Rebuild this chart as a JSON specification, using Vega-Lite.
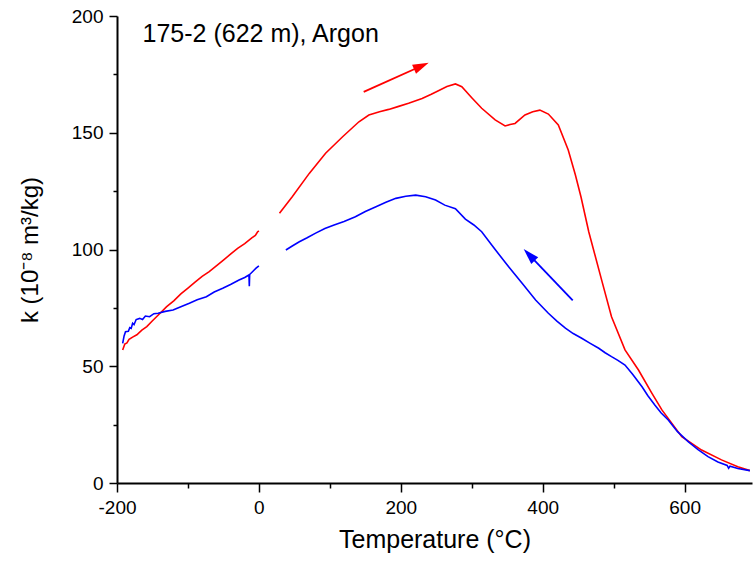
{
  "$schema": "https://vega.github.io/schema/vega-lite/v6.json",
  "width": 635,
  "height": 467,
  "autosize": {"type": "none"},
  "padding": {"left": 117, "top": 16, "right": 2, "bottom": 81},
  "background": "white",
  "config": {
    "view": {"stroke": null},
    "font": "Liberation Sans",
    "axis": {
      "grid": false,
      "domainColor": "black",
      "domainWidth": 2,
      "tickColor": "black",
      "tickWidth": 1.5,
      "labelColor": "black",
      "labelFont": "Liberation Sans",
      "labelFontSize": 19,
      "labelFlush": false,
      "labelOverlap": false,
      "titleColor": "black",
      "titleFont": "Liberation Sans",
      "titleFontWeight": "normal",
      "titleFontSize": 24
    }
  },
  "datasets": {
    "curves": [
      {"T": -192, "k": 57, "run": "heating", "seg": "h1"},
      {"T": -189, "k": 59.5, "run": "heating", "seg": "h1"},
      {"T": -186, "k": 60, "run": "heating", "seg": "h1"},
      {"T": -183, "k": 61.5, "run": "heating", "seg": "h1"},
      {"T": -178, "k": 62.5, "run": "heating", "seg": "h1"},
      {"T": -172, "k": 63.5, "run": "heating", "seg": "h1"},
      {"T": -165, "k": 65.5, "run": "heating", "seg": "h1"},
      {"T": -158, "k": 67, "run": "heating", "seg": "h1"},
      {"T": -150, "k": 69.5, "run": "heating", "seg": "h1"},
      {"T": -140, "k": 72.5, "run": "heating", "seg": "h1"},
      {"T": -130, "k": 75.5, "run": "heating", "seg": "h1"},
      {"T": -120, "k": 78, "run": "heating", "seg": "h1"},
      {"T": -110, "k": 81, "run": "heating", "seg": "h1"},
      {"T": -100, "k": 83.5, "run": "heating", "seg": "h1"},
      {"T": -90, "k": 86, "run": "heating", "seg": "h1"},
      {"T": -80, "k": 88.5, "run": "heating", "seg": "h1"},
      {"T": -70, "k": 90.5, "run": "heating", "seg": "h1"},
      {"T": -60, "k": 93, "run": "heating", "seg": "h1"},
      {"T": -50, "k": 95.5, "run": "heating", "seg": "h1"},
      {"T": -40, "k": 98, "run": "heating", "seg": "h1"},
      {"T": -30, "k": 100.5, "run": "heating", "seg": "h1"},
      {"T": -20, "k": 102.5, "run": "heating", "seg": "h1"},
      {"T": -10, "k": 105, "run": "heating", "seg": "h1"},
      {"T": -5, "k": 106, "run": "heating", "seg": "h1"},
      {"T": -2, "k": 107.5, "run": "heating", "seg": "h1"},
      {"T": 0, "k": 108, "run": "heating", "seg": "h1"},
      {"T": 29, "k": 115.5, "run": "heating", "seg": "h2"},
      {"T": 47, "k": 122.6, "run": "heating", "seg": "h2"},
      {"T": 71, "k": 132.6, "run": "heating", "seg": "h2"},
      {"T": 94, "k": 141.2, "run": "heating", "seg": "h2"},
      {"T": 118, "k": 148.3, "run": "heating", "seg": "h2"},
      {"T": 141, "k": 154.7, "run": "heating", "seg": "h2"},
      {"T": 155, "k": 157.6, "run": "heating", "seg": "h2"},
      {"T": 170, "k": 159, "run": "heating", "seg": "h2"},
      {"T": 183, "k": 160, "run": "heating", "seg": "h2"},
      {"T": 197, "k": 161.3, "run": "heating", "seg": "h2"},
      {"T": 211, "k": 162.6, "run": "heating", "seg": "h2"},
      {"T": 230, "k": 164.7, "run": "heating", "seg": "h2"},
      {"T": 243, "k": 166.5, "run": "heating", "seg": "h2"},
      {"T": 253, "k": 168, "run": "heating", "seg": "h2"},
      {"T": 265, "k": 169.8, "run": "heating", "seg": "h2"},
      {"T": 277, "k": 170.9, "run": "heating", "seg": "h2"},
      {"T": 286, "k": 169.7, "run": "heating", "seg": "h2"},
      {"T": 300, "k": 165, "run": "heating", "seg": "h2"},
      {"T": 314, "k": 160.5, "run": "heating", "seg": "h2"},
      {"T": 333, "k": 155.5, "run": "heating", "seg": "h2"},
      {"T": 347, "k": 152.9, "run": "heating", "seg": "h2"},
      {"T": 354, "k": 153.5, "run": "heating", "seg": "h2"},
      {"T": 361, "k": 154, "run": "heating", "seg": "h2"},
      {"T": 375, "k": 157.6, "run": "heating", "seg": "h2"},
      {"T": 386, "k": 159, "run": "heating", "seg": "h2"},
      {"T": 396, "k": 159.7, "run": "heating", "seg": "h2"},
      {"T": 408, "k": 158, "run": "heating", "seg": "h2"},
      {"T": 422, "k": 153.3, "run": "heating", "seg": "h2"},
      {"T": 436, "k": 142.6, "run": "heating", "seg": "h2"},
      {"T": 446, "k": 132, "run": "heating", "seg": "h2"},
      {"T": 454, "k": 122.5, "run": "heating", "seg": "h2"},
      {"T": 465, "k": 107.5, "run": "heating", "seg": "h2"},
      {"T": 483, "k": 87, "run": "heating", "seg": "h2"},
      {"T": 497, "k": 71.2, "run": "heating", "seg": "h2"},
      {"T": 516, "k": 57, "run": "heating", "seg": "h2"},
      {"T": 535, "k": 48.4, "run": "heating", "seg": "h2"},
      {"T": 554, "k": 38.4, "run": "heating", "seg": "h2"},
      {"T": 568, "k": 31.3, "run": "heating", "seg": "h2"},
      {"T": 596, "k": 19.8, "run": "heating", "seg": "h2"},
      {"T": 624, "k": 14.1, "run": "heating", "seg": "h2"},
      {"T": 652, "k": 9.9, "run": "heating", "seg": "h2"},
      {"T": 675, "k": 7, "run": "heating", "seg": "h2"},
      {"T": 692, "k": 5.3, "run": "heating", "seg": "h2"},
      {"T": -192, "k": 59.8, "run": "cooling", "seg": "c1"},
      {"T": -190, "k": 63, "run": "cooling", "seg": "c1"},
      {"T": -188, "k": 64.8, "run": "cooling", "seg": "c1"},
      {"T": -184, "k": 65, "run": "cooling", "seg": "c1"},
      {"T": -182, "k": 66.5, "run": "cooling", "seg": "c1"},
      {"T": -180, "k": 66.2, "run": "cooling", "seg": "c1"},
      {"T": -178, "k": 68.4, "run": "cooling", "seg": "c1"},
      {"T": -176, "k": 67.8, "run": "cooling", "seg": "c1"},
      {"T": -173, "k": 70, "run": "cooling", "seg": "c1"},
      {"T": -168, "k": 70.5, "run": "cooling", "seg": "c1"},
      {"T": -164, "k": 70, "run": "cooling", "seg": "c1"},
      {"T": -160, "k": 71.5, "run": "cooling", "seg": "c1"},
      {"T": -154, "k": 71.2, "run": "cooling", "seg": "c1"},
      {"T": -148, "k": 72.5, "run": "cooling", "seg": "c1"},
      {"T": -142, "k": 72.7, "run": "cooling", "seg": "c1"},
      {"T": -132, "k": 73.5, "run": "cooling", "seg": "c1"},
      {"T": -121, "k": 74.1, "run": "cooling", "seg": "c1"},
      {"T": -110, "k": 75.5, "run": "cooling", "seg": "c1"},
      {"T": -98, "k": 77, "run": "cooling", "seg": "c1"},
      {"T": -87, "k": 78.5, "run": "cooling", "seg": "c1"},
      {"T": -74, "k": 79.8, "run": "cooling", "seg": "c1"},
      {"T": -63, "k": 81.8, "run": "cooling", "seg": "c1"},
      {"T": -51, "k": 83.4, "run": "cooling", "seg": "c1"},
      {"T": -40, "k": 85, "run": "cooling", "seg": "c1"},
      {"T": -28, "k": 86.9, "run": "cooling", "seg": "c1"},
      {"T": -20, "k": 88, "run": "cooling", "seg": "c1"},
      {"T": -14, "k": 89.1, "run": "cooling", "seg": "c1"},
      {"T": -13.5, "k": 84.3, "run": "cooling", "seg": "c1"},
      {"T": -13, "k": 89.3, "run": "cooling", "seg": "c1"},
      {"T": -8, "k": 90.8, "run": "cooling", "seg": "c1"},
      {"T": -4, "k": 92, "run": "cooling", "seg": "c1"},
      {"T": 0, "k": 93, "run": "cooling", "seg": "c1"},
      {"T": 38, "k": 99.8, "run": "cooling", "seg": "c2"},
      {"T": 47, "k": 101.5, "run": "cooling", "seg": "c2"},
      {"T": 57, "k": 103.3, "run": "cooling", "seg": "c2"},
      {"T": 68, "k": 105, "run": "cooling", "seg": "c2"},
      {"T": 80, "k": 107, "run": "cooling", "seg": "c2"},
      {"T": 93, "k": 109, "run": "cooling", "seg": "c2"},
      {"T": 106, "k": 110.5, "run": "cooling", "seg": "c2"},
      {"T": 120, "k": 112, "run": "cooling", "seg": "c2"},
      {"T": 136, "k": 114, "run": "cooling", "seg": "c2"},
      {"T": 150, "k": 116.3, "run": "cooling", "seg": "c2"},
      {"T": 165, "k": 118.3, "run": "cooling", "seg": "c2"},
      {"T": 179, "k": 120.2, "run": "cooling", "seg": "c2"},
      {"T": 193, "k": 121.9, "run": "cooling", "seg": "c2"},
      {"T": 207, "k": 122.8, "run": "cooling", "seg": "c2"},
      {"T": 221, "k": 123.3, "run": "cooling", "seg": "c2"},
      {"T": 235, "k": 122.6, "run": "cooling", "seg": "c2"},
      {"T": 249, "k": 121.2, "run": "cooling", "seg": "c2"},
      {"T": 262, "k": 119, "run": "cooling", "seg": "c2"},
      {"T": 277, "k": 117.5, "run": "cooling", "seg": "c2"},
      {"T": 291, "k": 113, "run": "cooling", "seg": "c2"},
      {"T": 303, "k": 110.5, "run": "cooling", "seg": "c2"},
      {"T": 314, "k": 107.6, "run": "cooling", "seg": "c2"},
      {"T": 333, "k": 100, "run": "cooling", "seg": "c2"},
      {"T": 352, "k": 92.6, "run": "cooling", "seg": "c2"},
      {"T": 371, "k": 85.5, "run": "cooling", "seg": "c2"},
      {"T": 390, "k": 78.4, "run": "cooling", "seg": "c2"},
      {"T": 408, "k": 72.7, "run": "cooling", "seg": "c2"},
      {"T": 420, "k": 69.3, "run": "cooling", "seg": "c2"},
      {"T": 432, "k": 66.3, "run": "cooling", "seg": "c2"},
      {"T": 443, "k": 64, "run": "cooling", "seg": "c2"},
      {"T": 455, "k": 62, "run": "cooling", "seg": "c2"},
      {"T": 467, "k": 59.8, "run": "cooling", "seg": "c2"},
      {"T": 479, "k": 57.7, "run": "cooling", "seg": "c2"},
      {"T": 488, "k": 55.8, "run": "cooling", "seg": "c2"},
      {"T": 497, "k": 54.1, "run": "cooling", "seg": "c2"},
      {"T": 506, "k": 52.5, "run": "cooling", "seg": "c2"},
      {"T": 516, "k": 50.5, "run": "cooling", "seg": "c2"},
      {"T": 527, "k": 46.5, "run": "cooling", "seg": "c2"},
      {"T": 540, "k": 41.2, "run": "cooling", "seg": "c2"},
      {"T": 548, "k": 37.5, "run": "cooling", "seg": "c2"},
      {"T": 558, "k": 33.4, "run": "cooling", "seg": "c2"},
      {"T": 567, "k": 30, "run": "cooling", "seg": "c2"},
      {"T": 577, "k": 27, "run": "cooling", "seg": "c2"},
      {"T": 590, "k": 22, "run": "cooling", "seg": "c2"},
      {"T": 605, "k": 17.7, "run": "cooling", "seg": "c2"},
      {"T": 619, "k": 14.3, "run": "cooling", "seg": "c2"},
      {"T": 633, "k": 11.3, "run": "cooling", "seg": "c2"},
      {"T": 647, "k": 9, "run": "cooling", "seg": "c2"},
      {"T": 660, "k": 7.5, "run": "cooling", "seg": "c2"},
      {"T": 662, "k": 6.3, "run": "cooling", "seg": "c2"},
      {"T": 664, "k": 7.2, "run": "cooling", "seg": "c2"},
      {"T": 675, "k": 6.2, "run": "cooling", "seg": "c2"},
      {"T": 692, "k": 5.3, "run": "cooling", "seg": "c2"}
    ],
    "arrows": [
      {"T": 147.7, "k": 167.5, "T2": 229, "k2": 178.6, "run": "heating"},
      {"T": 442.3, "k": 78.2, "T2": 381, "k2": 97.7, "run": "cooling"}
    ],
    "notes": [
      {"T": -164, "k": 189, "label": "175-2 (622 m), Argon"}
    ]
  },
  "layer": [
    {
      "data": {"name": "curves"},
      "mark": {"type": "line", "strokeWidth": 1.6},
      "encoding": {
        "x": {
          "field": "T",
          "type": "quantitative",
          "scale": {"domain": [-200, 695], "nice": false, "zero": false},
          "axis": {
            "title": "Temperature (°C)",
            "titleFontSize": 25,
            "values": [-200, -100, 0, 100, 200, 300, 400, 500, 600],
            "labelExpr": "datum.value % 200 === 0 ? '' + datum.value : ''",
            "tickSize": {"condition": {"test": "datum.value % 200 === 0", "value": 9}, "value": 5},
            "labelPadding": 6,
            "titlePadding": 10
          }
        },
        "y": {
          "field": "k",
          "type": "quantitative",
          "scale": {"domain": [0, 200], "nice": false},
          "axis": {
            "title": "k (10⁻⁸ m³/kg)",
            "values": [0, 25, 50, 75, 100, 125, 150, 175, 200],
            "labelExpr": "datum.value % 50 === 0 ? '' + datum.value : ''",
            "tickSize": {"condition": {"test": "datum.value % 50 === 0", "value": 8}, "value": 4},
            "labelPadding": 6,
            "titlePadding": 29
          }
        },
        "color": {
          "field": "run",
          "type": "nominal",
          "scale": {"domain": ["heating", "cooling"], "range": ["#ff0000", "#0000ff"]},
          "legend": null
        },
        "detail": {"field": "seg", "type": "nominal"}
      }
    },
    {
      "data": {"name": "arrows"},
      "mark": {"type": "rule", "strokeWidth": 1.8},
      "encoding": {
        "x": {"field": "T", "type": "quantitative"},
        "y": {"field": "k", "type": "quantitative"},
        "x2": {"field": "T2"},
        "y2": {"field": "k2"},
        "color": {"field": "run", "type": "nominal", "legend": null}
      }
    },
    {
      "data": {"name": "arrows"},
      "transform": [{"filter": "datum.run === 'heating'"}],
      "mark": {"type": "point", "shape": "M0,-1L0.6,1L-0.6,1Z", "filled": true, "opacity": 1, "size": 256, "angle": 65.8, "strokeWidth": 0},
      "encoding": {
        "x": {"field": "T2", "type": "quantitative"},
        "y": {"field": "k2", "type": "quantitative"},
        "color": {"field": "run", "type": "nominal", "legend": null}
      }
    },
    {
      "data": {"name": "arrows"},
      "transform": [{"filter": "datum.run === 'cooling'"}],
      "mark": {"type": "point", "shape": "M0,-1L0.6,1L-0.6,1Z", "filled": true, "opacity": 1, "size": 256, "angle": 316.4, "strokeWidth": 0},
      "encoding": {
        "x": {"field": "T2", "type": "quantitative"},
        "y": {"field": "k2", "type": "quantitative"},
        "color": {"field": "run", "type": "nominal", "legend": null}
      }
    },
    {
      "data": {"name": "notes"},
      "mark": {"type": "text", "align": "left", "baseline": "alphabetic", "fontSize": 25, "font": "Liberation Sans", "color": "black"},
      "encoding": {
        "x": {"field": "T", "type": "quantitative"},
        "y": {"field": "k", "type": "quantitative"},
        "text": {"field": "label"}
      }
    }
  ]
}
